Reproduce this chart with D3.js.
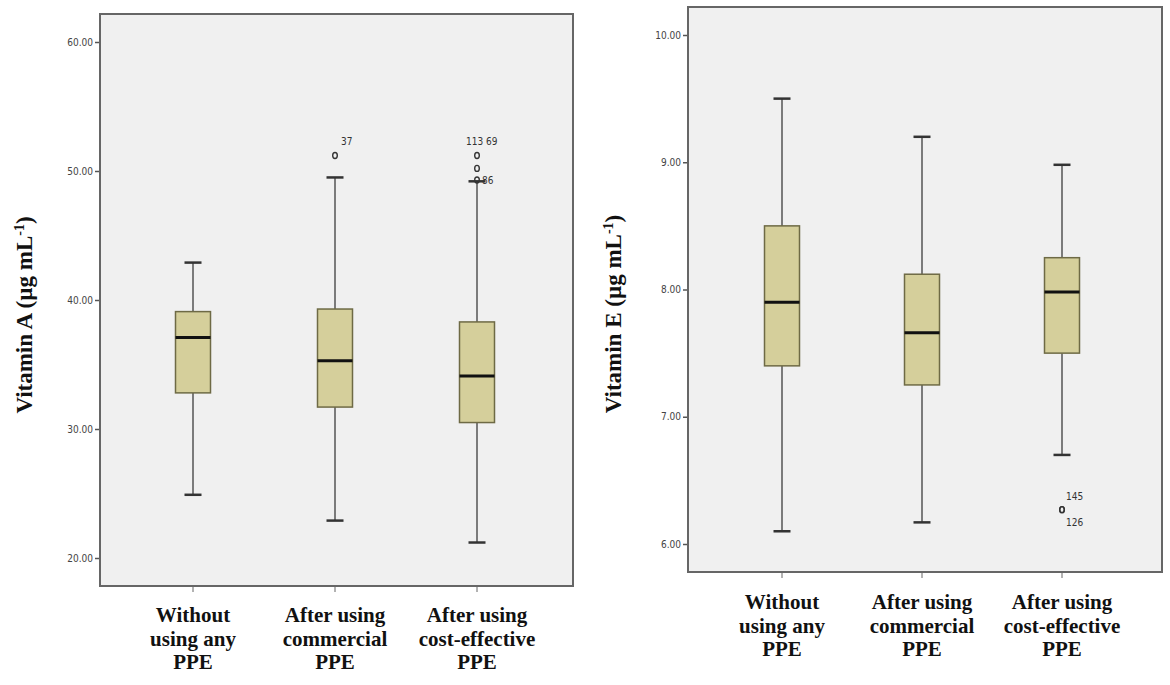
<!DOCTYPE html>
<html>
<head>
<meta charset="utf-8">
<script src="https://cdn.jsdelivr.net/npm/d3@7"></script>
<style>
  body { margin: 0; background: #fff; }
  svg { display: block; }
  .tick text { font-family: "Liberation Sans Narrow", "DejaVu Sans Condensed", Arial, sans-serif; font-size: 10px; fill: #444; }
  .olab { font-family: "Liberation Sans Narrow", "DejaVu Sans Condensed", Arial, sans-serif; font-size: 10px; fill: #333; }
</style>
</head>
<body>
<svg id="chart" width="1170" height="685"></svg>
<script>
"use strict"

const groups = [
  ["Without", "using any", "PPE"],
  ["After using", "commercial", "PPE"],
  ["After using", "cost-effective", "PPE"]
]

// [whiskerLow, Q1, median, Q3, whiskerHigh]
const vitaminA = [
  [24.9, 32.8, 37.1, 39.1, 42.9],
  [22.9, 31.7, 35.3, 39.3, 49.5],
  [21.2, 30.5, 34.1, 38.3, 49.2]
]
const vitaminAOutliers = [
  { group: 1, value: 51.2, label: "37", dx: 6, dy: -11 },
  { group: 2, value: 51.2, label: "113  69", dx: -11, dy: -11 },
  { group: 2, value: 50.2, label: "", dx: 0, dy: 0 },
  { group: 2, value: 49.3, label: "86", dx: 5, dy: 4 }
]
const vitaminATicks = [20, 30, 40, 50, 60]

const vitaminE = [
  [6.10, 7.40, 7.90, 8.50, 9.50],
  [6.17, 7.25, 7.66, 8.12, 9.20],
  [6.70, 7.50, 7.98, 8.25, 8.98]
]
const vitaminEOutliers = [
  { group: 2, value: 6.27, label: "145", dx: 4, dy: -10 },
  { group: 2, value: 6.27, label: "126", dx: 4, dy: 16 }
]
const vitaminETicks = [6, 7, 8, 9, 10]

const serif = "'Liberation Serif', 'Times New Roman', serif"
const svg = d3.select("#chart")

const panels = [
  { stats: vitaminA, outliers: vitaminAOutliers, ticks: vitaminATicks, name: "Vitamin A",
    frame: { x0: 100, x1: 573, y0: 14, y1: 586 }, yDom: [20, 60], yRange: [558, 42],
    xs: [193, 335, 477], titleX: 24, titleY: 315, labY: 620 },
  { stats: vitaminE, outliers: vitaminEOutliers, ticks: vitaminETicks, name: "Vitamin E",
    frame: { x0: 688, x1: 1162, y0: 7, y1: 572 }, yDom: [6, 10], yRange: [544, 35],
    xs: [782, 922, 1062], titleX: 613, titleY: 314, labY: 607 }
]

panels.forEach(p => drawPanel(p))

function drawPanel(p) {
  const f = p.frame
  const g = svg.append("g")

  g.append("rect")
    .attr("x", f.x0).attr("y", f.y0)
    .attr("width", f.x1 - f.x0).attr("height", f.y1 - f.y0)
    .attr("fill", "#f0f0f0")
    .attr("stroke", "#666")
    .attr("stroke-width", 2)

  const y = d3.scaleLinear().domain(p.yDom).range(p.yRange)
  const x = d3.scaleOrdinal().domain(d3.range(groups.length)).range(p.xs)

  const yAxis = g.append("g")
    .attr("transform", "translate(" + (f.x0 - 1) + ",0)")
    .call(d3.axisLeft(y).tickValues(p.ticks).tickSize(4).tickPadding(2).tickFormat(d3.format(".2f")))
  yAxis.select(".domain").remove()
  yAxis.selectAll(".tick line").attr("stroke", "#555").attr("stroke-width", 1.5)

  // x ticks below frame
  g.selectAll(".xtick")
    .data(groups)
    .enter().append("line")
      .attr("x1", (d, i) => x(i)).attr("x2", (d, i) => x(i))
      .attr("y1", f.y1 + 1).attr("y2", f.y1 + 6)
      .attr("stroke", "#666").attr("stroke-width", 1)

  const boxW = 35, capW = 17

  const box = g.selectAll(".box")
    .data(p.stats)
    .enter().append("g")
      .attr("class", "box")

  // whiskers
  box.append("line")
    .attr("x1", (d, i) => x(i)).attr("x2", (d, i) => x(i))
    .attr("y1", d => y(d[0])).attr("y2", d => y(d[1]))
    .attr("stroke", "#555").attr("stroke-width", 1.5)
  box.append("line")
    .attr("x1", (d, i) => x(i)).attr("x2", (d, i) => x(i))
    .attr("y1", d => y(d[3])).attr("y2", d => y(d[4]))
    .attr("stroke", "#555").attr("stroke-width", 1.5)
  // caps
  box.selectAll(".cap")
    .data((d, i) => [[i, d[0]], [i, d[4]]])
    .enter().append("line")
      .attr("x1", d => x(d[0]) - capW / 2).attr("x2", d => x(d[0]) + capW / 2)
      .attr("y1", d => y(d[1])).attr("y2", d => y(d[1]))
      .attr("stroke", "#333").attr("stroke-width", 2.5)

  box.append("rect")
    .attr("x", (d, i) => x(i) - boxW / 2)
    .attr("y", d => y(d[3]))
    .attr("width", boxW)
    .attr("height", d => y(d[1]) - y(d[3]))
    .attr("fill", "#d5cf9b")
    .attr("stroke", "#6e6a45")
    .attr("stroke-width", 1.5)

  box.append("line")
    .attr("x1", (d, i) => x(i) - boxW / 2).attr("x2", (d, i) => x(i) + boxW / 2)
    .attr("y1", d => y(d[2])).attr("y2", d => y(d[2]))
    .attr("stroke", "#111").attr("stroke-width", 3)

  // outliers
  g.selectAll(".outlier")
    .data(p.outliers)
    .enter().append("ellipse")
      .attr("cx", d => x(d.group)).attr("cy", d => y(d.value))
      .attr("rx", 2.3).attr("ry", 3)
      .attr("fill", "none").attr("stroke", "#333").attr("stroke-width", 1.4)

  g.selectAll(".olab")
    .data(p.outliers.filter(d => d.label))
    .enter().append("text")
      .attr("class", "olab")
      .attr("x", d => x(d.group) + d.dx)
      .attr("y", d => y(d.value) + d.dy)
      .text(d => d.label)

  // category labels
  groups.forEach((lines, i) => {
    const t = g.append("text")
      .attr("font-family", serif)
      .attr("font-weight", "bold")
      .attr("fill", "#111")
      .attr("text-anchor", "middle")
      .attr("font-size", 21)
    lines.forEach((ln, j) => {
      t.append("tspan")
        .attr("x", x(i))
        .attr("y", p.labY + 2 + j * 23.5)
        .text(ln)
    })
  })

  // y axis title
  const title = g.append("text")
    .attr("font-family", serif)
    .attr("font-weight", "bold")
    .attr("fill", "#111")
    .attr("font-size", 23)
    .attr("text-anchor", "middle")
    .attr("transform", "translate(" + (p.titleX + 8) + "," + p.titleY + ") rotate(-90)")
  title.append("tspan").text(p.name + " (\u00b5g mL")
  title.append("tspan").attr("font-size", 14).attr("dy", -8).text("-1")
  title.append("tspan").attr("dy", 8).text(")")
}
</script>
</body>
</html>
